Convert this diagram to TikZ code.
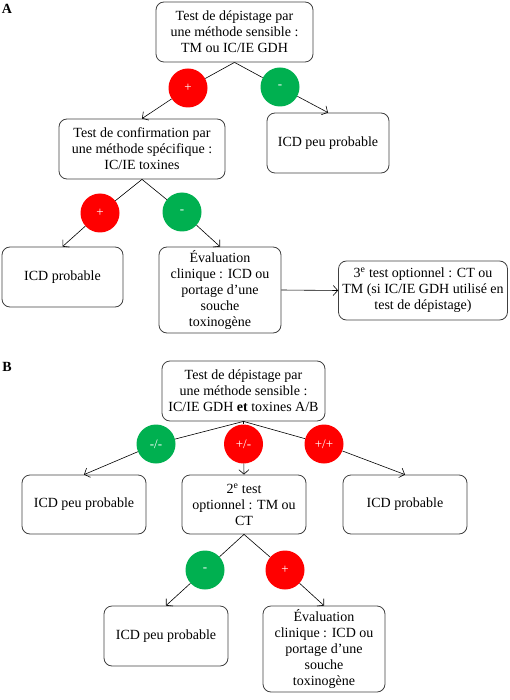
\documentclass[tikz,border=0pt]{standalone}
\usepackage{fontspec}
\setmainfont{Liberation Serif}
\usetikzlibrary{arrows.meta}
\usetikzlibrary{positioning}

\definecolor{posred}{RGB}{255,0,0}
\definecolor{neggreen}{RGB}{0,176,80}

\tikzset{
  box/.style={draw=black!75, line width=0.8pt, rounded corners=8pt, align=center,
    inner sep=1pt, font=\fontsize{14}{16}\selectfont},
  dot/.style={circle, minimum size=39pt, inner sep=0pt, text=white,
    font=\fontsize{13}{13}\selectfont},
  rdot/.style={dot, fill=posred},
  gdot/.style={dot, fill=neggreen},
  flow/.style={line width=0.6pt},
  >={Straight Barb[length=4.5pt,width=10pt]},
}

\begin{document}
\begin{tikzpicture}[x=1pt, y=-1pt]
            \useasboundingbox (0, 0) rectangle (510, 700);

            % Part A
            \node[font=\fontsize{14}{16}\selectfont\bfseries] (labA) at (7, 9) {A};
            \node[box, minimum width=157pt, minimum height=60pt] (depA) at (234.5, 32)
                {Test de dépistage par\\une méthode sensible :\\TM ou IC/IE GDH};
            \node[rdot] (pA1) at (188, 88) {+};
            \node[gdot] (nA1) at (280, 87) {-};
            \node[box, minimum width=166pt, minimum height=60pt] (confA) at (142, 149)
                {Test de confirmation par\\une méthode spécifique :\\IC/IE toxines};
            \node[box, minimum width=122pt, minimum height=60pt] (peuA) at (328, 143)
                {ICD peu probable};
            \node[rdot] (pA2) at (100, 213) {+};
            \node[gdot] (nA2) at (182, 212) {-};
            \node[box, minimum width=121pt, minimum height=60pt] (probA) at (62.5, 277)
                {ICD probable};
            \node[box, minimum width=122pt, minimum height=86pt] (evalA) at (220, 290)
                {Évaluation\\clinique : ICD ou\\portage d’une\\souche\\toxinogène};
            \node[box, minimum width=169pt, minimum height=59pt] (optA) at (423, 290.5)
                {3\textsuperscript{e} test optionnel : CT ou\\TM (si IC/IE GDH utilisé en\\test de dépistage)};

            % Links A
            \draw[flow] (depA.south) -- (pA1);
            \draw[flow, ->] (pA1) -- (confA.north);
            \draw[flow] (depA.south) -- (nA1);
            \draw[flow, ->] (nA1) -- (peuA.north);
            \draw[flow] (confA.south) -- (pA2);
            \draw[flow, ->] (pA2) -- (probA.north);
            \draw[flow] (confA.south) -- (nA2);
            \draw[flow, ->] (nA2) -- (evalA.north);
            \draw[flow, ->] (evalA.east) -- (optA.west);

            % Part B
            \node[font=\fontsize{14}{16}\selectfont\bfseries] (labB) at (7, 367) {B};
            \node[box, minimum width=163pt, minimum height=60pt] (depB) at (243.5, 391)
                {Test de dépistage par\\une méthode sensible :\\IC/IE GDH {\bfseries et} toxines A/B};
            \node[gdot] (nB1) at (156, 444) {-/-};
            \node[rdot] (mB1) at (243.5, 444) {+/-};
            \node[rdot] (pB1) at (324, 444) {+/+};
            \node[box, minimum width=124pt, minimum height=59pt] (peuB) at (84, 504.5)
                {ICD peu probable};
            \node[box, minimum width=124pt, minimum height=59pt] (optB) at (244, 504.5)
                {2\textsuperscript{e} test\\optionnel : TM ou\\CT};
            \node[box, minimum width=124pt, minimum height=59pt] (probB) at (405, 504.5)
                {ICD probable};
            \node[gdot] (nB2) at (205, 570) {-};
            \node[rdot] (pB2) at (285, 570) {+};
            \node[box, minimum width=124pt, minimum height=60pt] (peuB2) at (166, 636)
                {ICD peu probable};
            \node[box, minimum width=122pt, minimum height=86pt] (evalB) at (324, 649)
                {Évaluation\\clinique : ICD ou\\portage d’une\\souche\\toxinogène};

            % Links B
            \draw[flow] (depB.south) -- (nB1);
            \draw[flow, ->] (nB1) -- (peuB.north);
            \draw[flow] (depB.south) -- (mB1);
            \draw[flow, ->] (mB1) -- (optB.north);
            \draw[flow] (depB.south) -- (pB1);
            \draw[flow, ->] (pB1) -- (probB.north);
            \draw[flow] (optB.south) -- (nB2);
            \draw[flow, ->] (nB2) -- (peuB2.north);
            \draw[flow] (optB.south) -- (pB2);
            \draw[flow, ->] (pB2) -- (evalB.north);
        \end{tikzpicture}
\end{document}
